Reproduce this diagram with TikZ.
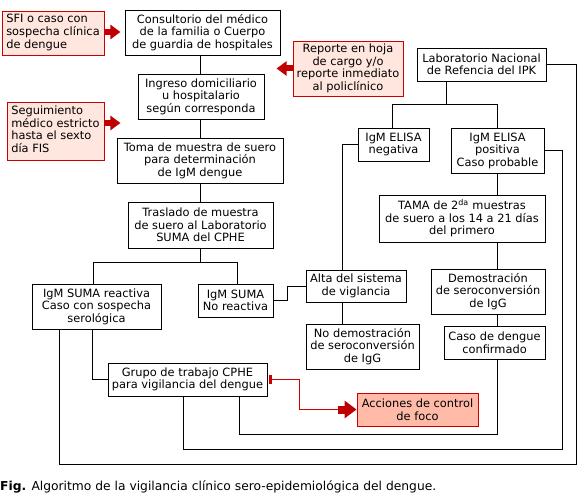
\documentclass[tikz,border=0pt]{standalone}
\usepackage{fontspec}
\setmainfont{DejaVu Sans}
\usetikzlibrary{arrows.meta}
\definecolor{boxred}{HTML}{CC0000}
\definecolor{pinkfill}{HTML}{FFE6DE}
\definecolor{salmonfill}{HTML}{FFBBA8}
\definecolor{arrred}{HTML}{C00000}
\tikzset{
  box/.style={draw, line width=0.9pt, align=center, inner sep=0pt, fill=white,
    font=\fontsize{11.4}{12.5}\selectfont},
  redbox/.style={box, draw=boxred, fill=pinkfill},
  actbox/.style={box, draw=boxred, fill=salmonfill},
  link/.style={line width=0.9pt},
  redlink/.style={line width=1pt, draw=boxred},
  bigarrow/.style={draw=arrred, line width=6pt, -{Triangle[length=10pt,width=14pt]}, arrred},
  bigarrowb/.style={draw=arrred, line width=8pt, -{Triangle[length=12pt,width=17pt]}, arrred}
}
\begin{document}
\begin{tikzpicture}[x=1pt,y=1pt]
\fill[white] (0,0) rectangle (580,-502);
\useasboundingbox (0,0) rectangle (580,-502);

% left column
\node[redbox, minimum width=102pt, minimum height=44pt] (sfi) at (53,-33) {\begin{tabular}{@{}l@{}}SFI o caso con\\sospecha clínica\\de dengue\end{tabular}};
\node[box, minimum width=155pt, minimum height=45pt] (cons) at (202.5,-32.5) {Consultorio del médico\\de la familia o Cuerpo\\de guardia de hospitales};
\node[box, minimum width=126pt, minimum height=45pt] (ingreso) at (201,-96.5) {Ingreso domiciliario\\u hospitalario\\según corresponda};
\node[box, minimum width=166pt, minimum height=45pt] (toma) at (200,-160.5) {Toma de muestra de suero\\para determinación\\de IgM dengue};
\node[redbox, minimum width=97pt, minimum height=58pt] (segu) at (55.5,-131) {\begin{tabular}{@{}l@{}}Seguimiento\\médico estricto\\hasta el sexto\\día FIS\end{tabular}};
\node[redbox, minimum width=110pt, minimum height=55pt] (reporte) at (348,-68.5) {Reporte en hoja\\de cargo y/o\\reporte inmediato\\al policlínico};
\node[box, minimum width=145pt, minimum height=46pt] (traslado) at (200.5,-225) {Traslado de muestra\\de suero al Laboratorio\\SUMA del CPHE};
\node[box, minimum width=129pt, minimum height=45pt] (react) at (96.5,-306.5) {IgM SUMA reactiva\\Caso con sospecha\\serológica};
\node[box, minimum width=75pt, minimum height=33pt] (noreact) at (235.5,-300.5) {IgM SUMA\\No reactiva};
\node[box, minimum width=159pt, minimum height=33pt] (grupo) at (187.5,-379.5) {Grupo de trabajo CPHE\\para vigilancia del dengue};
\node[actbox, minimum width=121pt, minimum height=33pt] (acciones) at (417.5,-409.5) {Acciones de control\\de foco};

% right column
\node[box, minimum width=129pt, minimum height=33pt] (lab) at (481.5,-64.5) {Laboratorio Nacional\\de Refencia del IPK};
\node[box, minimum width=71pt, minimum height=33pt] (neg) at (393.5,-144.5) {IgM ELISA\\negativa};
\node[box, minimum width=93pt, minimum height=45pt] (pos) at (497.5,-150.5) {IgM ELISA\\positiva\\Caso probable};
\node[box, minimum width=166pt, minimum height=47pt] (tama) at (462,-218.5) {TAMA de 2\textsuperscript{da} muestras\\de suero a los 14 a 21 días\\del primero};
\node[box, minimum width=114pt, minimum height=45pt] (demo) at (488,-291.5) {Demostración\\de seroconversión\\de IgG};
\node[box, minimum width=101pt, minimum height=33pt] (caso) at (494.5,-342.5) {Caso de dengue\\confirmado};
\node[box, minimum width=100pt, minimum height=32pt] (alta) at (356,-286) {Alta del sistema\\de viglancia};
\node[box, minimum width=113pt, minimum height=45pt] (nodemo) at (362.5,-346.5) {No demostración\\de seroconversión\\de IgG};

% caption
\node[anchor=base west, inner sep=0pt, font=\fontsize{12.3}{14}\selectfont] (cap) at (0,-490) {\textbf{Fig.} Algoritmo de la vigilancia clínico sero-epidemiológica del dengue.};

% main chain
\draw[link] (toma.north |- cons.south) -- (toma.north |- ingreso.north);
\draw[link] (toma.north |- ingreso.south) -- (toma.north);
\draw[link] (toma.south) -- (toma.south |- traslado.north);
\draw[link] (toma.south |- traslado.south) -- ++(0,-14) coordinate (j1);
\draw[link] ([xshift=-3.5pt]react.north) |- (j1) -| ([xshift=1.5pt]noreact.north);
\draw[link] (noreact.east) -- ++(14,0) |- (alta.west);

% lab branch
\draw[link] ([xshift=30pt]lab.south west) -- ++(0,-23) coordinate (j2);
\draw[link] ([xshift=-1.5pt]neg.north) |- (j2) -| (pos.north);
\draw[link] (neg.west) -- ++(-15,0) coordinate (k) -- (k |- alta.north);
\draw[link] (k |- alta.south) -- (k |- nodemo.north);
\draw[link] (pos.south) -- (pos.south |- tama.north);
\draw[link] (pos.south |- tama.south) -- (pos.south |- demo.north);
\draw[link] (pos.south |- demo.south) -- (pos.south |- caso.north);

% return lines
\draw[link] (pos.south |- caso.south) |- ([xshift=-28pt,yshift=-38pt]grupo.south east) -- ([xshift=-28pt]grupo.south east);
\draw[link] (pos.east) -- ++(18,0) |- ([xshift=-4.5pt,yshift=-53pt]grupo.south) -- ([xshift=-4.5pt]grupo.south);
\draw[link] (lab.east) -- ++(30,0) |- ([xshift=28pt,yshift=-135pt]react.south west) -- ([xshift=28pt]react.south west);
\draw[link] ([xshift=61pt]react.south west) |- (grupo.west);

% red connectors
\draw[redlink, {Bar[width=9pt,line width=2.5pt]}-] ([xshift=2pt]grupo.east) -- ++(30,0) |- ([xshift=-19pt]acciones.west) coordinate (ra);
\draw[bigarrowb] (ra) -- (acciones.west);
\draw[bigarrow] ([xshift=1pt,yshift=1pt]sfi.east) -- ++(15,0);
\draw[bigarrow] (reporte.west) -- ++(-16,0);
\draw[bigarrow] ([yshift=8pt]segu.east) -- ++(16,0);
\end{tikzpicture}
\end{document}
